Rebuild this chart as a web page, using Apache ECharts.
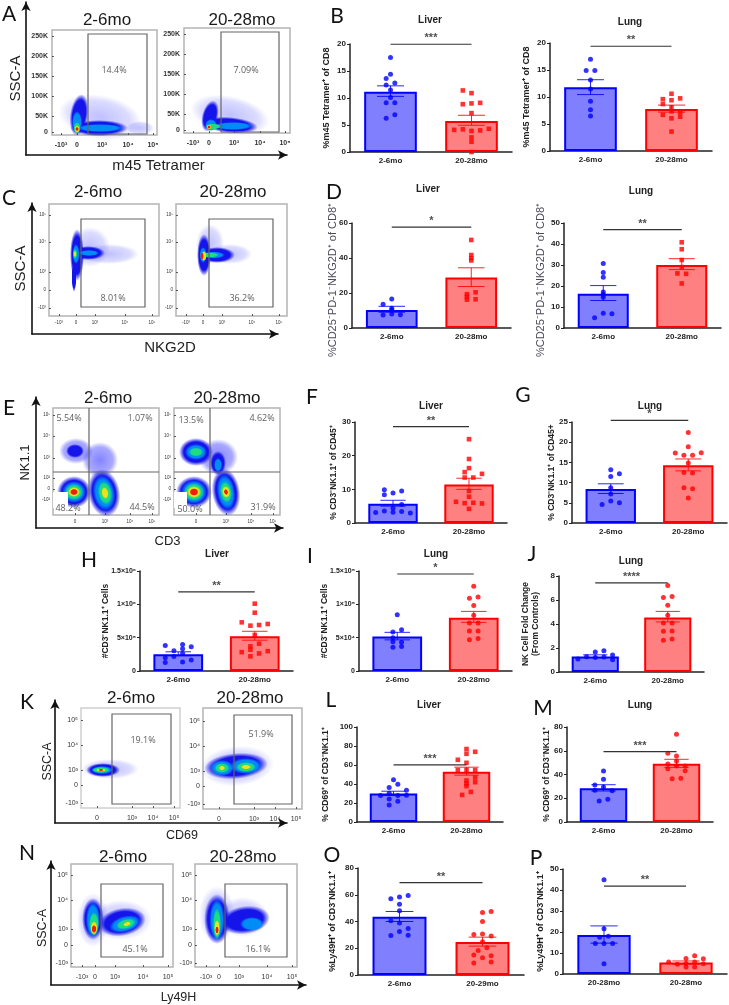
<!DOCTYPE html>
<html>
<head>
<meta charset="utf-8">
<title>Age-related changes in CD8 T cells and NK cells</title>
<style>html,body{margin:0;padding:0;background:#fff}#fig{width:729px;height:1005px}</style>
<script src="https://cdn.jsdelivr.net/npm/echarts@6/dist/echarts.min.js"></script>
</head>
<body>
<div id="fig"></div>
<script>
// ---------- group labels ----------
const ageGroups = ['2-6mo', '20-28mo'];
const ageGroupsO = ['2-6mo', '20-29mo'];
const ageGroupsP = ['20-28mo', '20-28mo'];

// ---------- bar panels: [jitter step, value] per animal, means, [low, high] of the SEM ----------
const bLiverBlue = [[0,17.5],[0,14.4],[-1,13.6],[-1,12.4],[1,12.8],[0,11.5],[0,10.1],[-1,9.1],[1,9.1],[-1,6.25],[1,6.9]];
const bLiverRed = [[-2,11.4],[0,10.9],[-2,8.85],[0,9],[2,9.1],[0,7.2],[-4,4.1],[-2,4.2],[0,3.9],[2,4],[4,4.3],[0,2.7],[0,1.9],[0,0]];
const bLiverMeans = [11.15, 5.75];
const bLiverSem = [[10.3,12.25],[4.95,6.8]];

const bLungBlue = [[0,17],[-1,14.9],[1,14.9],[0,13.15],[0,11.5],[0,9.2],[0,7.65],[0,6.5]];
const bLungRed = [[0,10.6],[-2,9.6],[2,9.75],[0,9.4],[-2,8.7],[0,8.1],[0,7.35],[2,7.15],[-2,6.7],[2,6.35],[0,6.05],[0,3.6]];
const bLungMeans = [11.8, 7.8];
const bLungSem = [[10.45,13.2],[7.2,8.5]];

const dLiverBlue = [[-2,13.6],[0,16.6],[0,11.3],[-2,7.5],[0,8],[2,7.6],[0,10.3]];
const dLiverRed = [[0,50.3],[0,41.7],[0,39.9],[0,38.6],[-1,19.3],[1,20.4],[-1,17.8],[-1,16.2],[1,16.4]];
const dLiverMeans = [10.3, 28.9];
const dLiverSem = [[9,12.4],[23.7,34.4]];

const dLungBlue = [[0,30.7],[0,26.4],[0,24.2],[0,17.2],[0,16],[0,14.7],[0,7],[2,6.8],[-2,4.9]];
const dLungRed = [[0,40.8],[0,37.5],[0,32.4],[0,29],[-1,26],[1,25.8],[0,21.2]];
const dLungMeans = [16.3, 30];
const dLungSem = [[13.1,20.2],[27.8,33]];

const fBlue = [[-2,9.9],[-2,8.4],[0,8.9],[2,9.5],[2,5.5],[0,4.4],[-2,3.6],[-4,3.1],[0,3.2],[2,3.4],[4,3]];
const fRed = [[0,24.9],[0,19],[0,16.3],[-1,15.1],[3,14.6],[-1,13.5],[1,13.5],[0,9.5],[0,7.8],[-3,6.3],[-1,5.9],[1,6],[3,5.8],[0,4.2]];
const fMeans = [5.7, 11.4];
const fSem = [[5,6.75],[10,13.3]];

const gBlue = [[0,13.2],[0,11.5],[2,12.2],[0,8.75],[0,7.2],[0,5.45],[2,5],[-2,4.6]];
const gRed = [[0,22.4],[0,18.9],[-3,17.3],[-1,16.75],[1,16.75],[3,17.4],[0,14.85],[-1,12.5],[1,12.4],[-1,8.7],[1,8.5],[0,6.2]];
const gMeans = [8.4, 14.3];
const gSem = [[7.3,9.7],[12.9,15.85]];

const hBlue = [[-3,3.83e5],[1,3.97e5],[3,3.63e5],[1,3.33e5],[-1,3.03e5],[1,2.63e5],[-3,1.99e5],[-1,2.19e5],[1,1.34e5],[3,1.64e5],[-3,1.29e5]];
const hRed = [[0,10.1e5],[0,8.74e5],[-3,7.3e5],[-1,6.8e5],[1,6.9e5],[3,7.05e5],[0,5.4e5],[1,4.1e5],[-1,3.7e5],[-1,3.2e5],[-3,2.83e5],[1,2.63e5],[3,2.98e5],[-1,2.2e5]];
const hMeans = [2.53e5, 5.2e5];
const hSem = [[2.29e5,2.88e5],[4.62e5,5.96e5]];
const hTickLabels = {0:'0', 500000:'5×10⁵', 1000000:'1×10⁶', 1500000:'1.5×10⁶'};

const iBlue = [[0,8.44e4],[-1,5.86e4],[1,6.2e4],[-1,4.97e4],[-1,4.37e4],[1,4.32e4],[-1,3.58e4],[1,3.68e4]];
const iRed = [[0,12.7e4],[-1,10.9e4],[1,11.1e4],[0,9.84e4],[0,8.35e4],[-1,7.2e4],[1,7.2e4],[-1,6e4],[1,6e4],[-1,4.67e4],[1,4.87e4]];
const iMeans = [5.17e4, 8e4];
const iSem = [[4.67e4,5.8e4],[7.3e4,8.94e4]];
const iTickLabels = {0:'0', 50000:'5×10⁴', 100000:'1×10⁵', 150000:'1.5×10⁵'};

const jBlue = [[0,1.66],[2,1.77],[-2,1.27],[0,1.21],[2,1.24],[4,1.41],[-4,1.08],[4,1.02]];
const jRed = [[0,7.2],[-1,6.2],[1,6.29],[0,5.57],[0,4.72],[-1,4.08],[1,4.08],[-1,3.39],[1,3.42],[-1,2.65],[1,2.76]];
const jMeans = [1.3, 4.55];
const jSem = [[1.19,1.43],[4.17,5.05]];

const lBlue = [[0,44.4],[1,39.8],[-1,36.3],[3,33.5],[-1,30.3],[-3,27.8],[1,27.8],[3,28.2],[-1,24.3],[1,21.8],[-1,18]];
const lRed = [[0,76.8],[0,71.8],[2,73.9],[-2,65.5],[0,62.3],[-2,54.6],[0,54.9],[2,54.6],[0,43.7],[2,46.8],[2,41.9],[0,40.5],[0,37.7],[1,31.7],[-1,28.5]];
const lMeans = [29.9, 52.8];
const lSem = [[27.8,32.4],[49.3,57.7]];

const mBlue = [[0,42.9],[0,35.9],[-2,31.2],[0,29.5],[-2,26.7],[2,26.4],[1,19.1],[-1,17.7]];
const mRed = [[0,73.8],[-2,57.8],[0,55.6],[0,51.4],[-2,48.8],[0,47.2],[2,47.2],[-2,44.9],[2,43.2],[-1,36.5],[1,36.8]];
const mMeans = [28.4, 49.1];
const mSem = [[26.1,31.4],[46,52.8]];

const oBlue = [[-2,57.1],[0,58.4],[2,59.4],[0,52.9],[0,48],[-2,40.5],[0,38.8],[2,34.8],[0,32.5],[-2,29.6],[2,29.8]];
const oRed = [[0,46.7],[2,47.5],[0,40],[-2,30.3],[0,30.6],[2,29.1],[0,24.8],[1,20.4],[-1,18.4],[-2,14.9],[2,14.4],[0,12.9],[2,9.7],[-2,8.9]];
const oMeans = [43.5, 24.6];
const oSem = [[40,47.5],[21.6,28.3]];

const pBlue = [[0,44.9],[0,21.6],[-1,17.5],[1,18],[-2,14.5],[0,14.5],[2,14.5],[0,4.9]];
const pRed = [[0,7.4],[2,8.7],[4,7.3],[-4,5.7],[-2,4.7],[0,5],[2,5.7],[4,4.9],[2,3.3],[0,3.3]];
const pMeans = [18.6, 5.5];
const pSem = [[14.7,22.9],[4.7,6.2]];

// ---------- cytometry plots: density contours as [x, y, rx, ry, tilt, level], in channel units ----------
// level: 0 faint, 1 sparse, 2 blue, 3 azure, 4 green, 5 yellow, 6 red
const aYoung = [[48,18,42,22,-10,0],[88,7,14,7,0,0],[27,20,9,21,-8,2],[47,7,29,8,0,2],[25,13,5,11,0,3],[48,7,24,4,0,3],[25,7,3.5,6,0,4],[25,6,2.5,3.5,0,5],[25,6,1.8,2,0,6]];
const aOld = [[46,18,40,19,-12,0],[26,17,8,16,-15,2],[46,8,28,8,-5,2],[27,8,6,6,0,3],[49,7,20,4,0,3],[29,6.5,8,3,0,4],[25,6,2.5,2.5,0,5],[25,6,1.8,1.8,0,6]];
const cYoung = [[41,69,20,20,0,0],[60,62,30,10,0,0],[28,61,7,26,0,2],[25,39,2.5,15,0,2],[39,63,17,7,0,2],[27,62,3.5,10,0,3],[40,63,10,3,0,3],[26,62,2.2,5,0,4],[26,62,1.4,3,0,5]];
const cOld = [[34,72,14,20,0,0],[54,62,22,10,0,0],[28,61,7,21,0,2],[41,61,18,8,0,2],[37,61,12,3.5,0,3],[27,61,3.5,8,0,3],[34,61,9,2.5,0,4],[28,60,2.6,5,0,5],[26,60,1.8,3.5,0,6]];
const eYoung = [[23,64,17,13,0,1],[47,55,18,18,0,1],[22,64,9,7,0,2],[21,23,17,16,0,2],[21,23,12,11,0,3],[21,23,9,8,0,4],[21,23,6,5,0,5],[21,23,4,3.2,0,6],[51,22,16,24,10,2],[51,22,11,18,10,3],[52,22,7,12,10,4],[52,22,3.5,6,10,5]];
const eOld = [[22,63,17,14,0,2],[22,63,11,8,0,3],[22,63,7,4.5,0,4],[44,58,20,18,0,1],[44,52,8,12,0,2],[44,50,4,7,0,3],[20,23,18,16,0,2],[20,23,13,12,0,3],[20,23,10,9,0,4],[20,23,7,6,0,5],[20,23,4.5,3.8,0,6],[52,23,14,24,8,2],[52,23,9,18,8,3],[52,23,6,11,8,4],[52,23,4,6,8,5],[52,23,2,3,8,6]];
const kYoung = [[29,39,29,10,0,0],[22,38,17,7,0,2],[21,38,11,4,0,3],[20,38,9,3,0,4],[20,38,5,1.6,0,5],[20,38,2.5,1,0,6]];
const kOld = [[34,43,37,20,5,0],[33,43,32,13,5,2],[19,41,12,8,0,3],[43,43,16,8,0,3],[19,41,7.5,5,0,4],[43,42,10,5,0,4],[19,41,3,2.2,0,5],[43,42,5,2.2,0,5]];
const nYoung = [[22,47,16,27,0,0],[50,47,31,20,0,0],[22,48,11,21,0,2],[51,45,24,14,10,2],[22,47,7,18,0,3],[54,43,16,8,15,3],[23,43,5,12,0,4],[55,43,10,5,15,4],[23,39,3.5,7,0,5],[56,43,4,2,15,5],[23,38,2.4,4,0,6]];
const nOld = [[22,52,18,29,0,0],[48,50,26,20,0,0],[22,48,13,25,0,2],[50,47,25,14,8,2],[22,47,7.5,21,0,3],[57,43,12,7,0,3],[22,43,4,16,0,4],[22,39,2.8,8,0,5],[22,37,1.8,3.6,0,6]];

// axis ticks shared by the plot rows, in the same channel units
const scatterLabels = ['0','50K','100K','150K','200K','250K'];
const scatterTicks = [3,19,39,59,79,99];
const aXTicks = [9,25,50,76,101];
const logXLabels = ['-10³','0','10³','10⁴','10⁵'];
const logYLabels = ['-10³','0','10³','10⁴','10⁵'];
const cXTicks = [10,27,46,76,103];
const cYTicks = [8,26,44,74,101];
const eXTicks = [22,52,77,99];
const eXLabels = ['0','10³','10⁴','10⁵'];
const eYTicks = [15,26,37,57,79,100];
const eYLabels = ['-10²','0','10²','10³','10⁴','10⁵'];
const kXTicks = [16,51,72,93];
const kYTicks = [5,23,38,63,88];
const nXTicks = [11,24,44,72,97];
const nYTicks = [4,22,38,67,92];

const SANS = '"Liberation Sans", Arial, sans-serif';
const BLUE = '#0000ff', RED = '#ff0000';
const option = {
  animation: false, backgroundColor: '#fff', textStyle: {fontFamily: SANS},
  title: [], grid: [], xAxis: [], yAxis: [], series: []
};

function addTitle(text, x, y, size, weight, family, color) {
  option.title.push({text, left: x, top: y, padding: 0, textAlign: 'center', textVerticalAlign: 'middle',
    textStyle: {fontSize: size, fontWeight: weight || 'normal', fontFamily: family || SANS, color: color || '#1a1a1a'}});
}

// ---------- one bar panel ----------
function addBars(p) {
  const gi = option.grid.length, xi = option.xAxis.length, yi = option.yAxis.length;
  const width = p.right - p.left, cat = width / 2;
  const step = 4.33 / cat;
  option.grid.push({left: p.left, top: p.top, width, height: p.zero - p.top});
  const axisLine = {show: true, onZero: false, lineStyle: {color: '#222', width: 1.5}};
  option.xAxis.push({gridIndex: gi, type: 'category', data: p.categories, axisLine,
    axisTick: {alignWithLabel: true, length: 3, lineStyle: {color: '#222', width: 1}},
    axisLabel: {fontSize: 8, fontWeight: 'bold', color: '#222', margin: 5, interval: 0}, splitLine: {show: false}});
  option.xAxis.push({gridIndex: gi, type: 'value', min: -0.5, max: 1.5, show: false});
  const tick = p.tickLabels ? (v => p.tickLabels[v]) : undefined;
  option.yAxis.push({gridIndex: gi, type: 'value', min: 0, max: p.max, interval: p.interval, axisLine,
    axisTick: {show: true, length: 3, lineStyle: {color: '#222', width: 1}},
    axisLabel: {fontSize: p.tickLabels ? 7 : 8, fontWeight: 'bold', color: '#222', margin: 4, formatter: tick},
    splitLine: {show: false},
    name: p.yName, nameLocation: 'middle', nameRotate: 90, nameGap: p.nameGap, nameMoveOverlap: false,
    nameTextStyle: Object.assign({fontSize: 9, fontWeight: 'bold', color: '#222', lineHeight: 10, fontFamily: SANS}, p.nameStyle || {})});
  const axes = {xAxisIndex: xi, yAxisIndex: yi};
  const valueAxes = {xAxisIndex: xi + 1, yAxisIndex: yi};
  option.series.push({type: 'bar', ...axes, barWidth: '65%', silent: true,
    data: p.means.map((v, i) => ({value: v, itemStyle: {
      color: i ? '#ff8080' : '#8080ff', borderColor: i ? RED : BLUE, borderWidth: 2}}))});
  const dots = (pts, g, symbol, size, color) => option.series.push({type: 'scatter', ...valueAxes, symbol, symbolSize: size, silent: true, z: 4,
    itemStyle: {color}, clip: false, data: pts.map(d => [g + d[0] * step, d[1]])});
  dots(p.blue, 0, 'circle', 5, BLUE);
  dots(p.red, 1, p.redSymbol, p.redSymbol === 'rect' ? 4.6 : 5, RED);
  // SEM whiskers
  option.series.push({type: 'custom', ...valueAxes, silent: true, z: 5, clip: false,
    data: p.sem.map((s, i) => [i, s[0], s[1]]),
    renderItem(params, api) {
      const g = api.value(0), a = api.coord([g, api.value(1)]), b = api.coord([g, api.value(2)]);
      const c = g ? RED : BLUE, w = cat / 6;
      const style = {stroke: c, lineWidth: 1, opacity: 0.85, fill: null};
      const seg = (x1, y1, x2, y2) => ({type: 'line', shape: {x1, y1, x2, y2}, style});
      return {type: 'group', children: [
        seg(a[0], a[1], b[0], b[1]), seg(a[0] - w, a[1], a[0] + w, a[1]), seg(b[0] - w, b[1], b[0] + w, b[1])]};
    }});
  // significance bracket and its stars
  option.series.push({type: 'line', ...valueAxes, silent: true, clip: false, showSymbol: false, z: 6,
    lineStyle: {color: '#333', width: 1.2}, data: [[0, p.sig], [1, p.sig]]});
  option.series.push({type: 'scatter', ...valueAxes, silent: true, clip: false, symbolSize: 1, z: 6,
    itemStyle: {color: 'rgba(0,0,0,0)'}, data: [[0.5, p.sig]],
    label: {show: true, position: 'top', distance: 0, formatter: p.stars, fontSize: 11, fontWeight: 'bold', color: '#222'}});
  if (p.title) addTitle(p.title, p.titleX, p.titleY, 10, 'bold', SANS, '#222');
}

// ---------- one cytometry plot ----------
function softFill(level) {
  const rgb = ['60,60,255','50,50,255','20,20,235','0,140,245','30,220,130','235,225,30','240,30,15'][level];
  const core = [0.32, 0.6, 1, 1, 1, 1, 1][level];
  const mid = [0.18, 0.42, 1, 1, 1, 1, 1][level];
  return {type: 'radial', x: 0.5, y: 0.5, r: 0.5, colorStops: [
    {offset: 0, color: `rgba(${rgb},${core})`},
    {offset: 0.72, color: `rgba(${rgb},${mid})`},
    {offset: 1, color: `rgba(${rgb},0)`}]};
}

function addFlow(p) {
  const gi = option.grid.length, xi = option.xAxis.length, yi = option.yAxis.length;
  const w = p.frame[2] - p.frame[0], h = p.frame[3] - p.frame[1];
  option.grid.push({left: p.frame[0], top: p.frame[1], width: w, height: h, show: true,
    backgroundColor: '#fff', borderColor: p.frameColor || '#b4b4b4', borderWidth: 1.5});
  const axis = (ticks, labels, extent, margin) => ({gridIndex: gi, type: 'value', min: 0, max: extent, z: 1,
    axisLine: {show: false, onZero: false}, splitLine: {show: false},
    axisTick: {show: true, customValues: ticks, length: 2, inside: true, lineStyle: {color: '#333', width: 0.8}},
    axisLabel: {customValues: ticks, fontSize: p.tickFont, color: '#333', margin, fontWeight: p.tickWeight || 'normal',
      formatter: v => labels[ticks.indexOf(v)], showMinLabel: true, showMaxLabel: true}});
  option.xAxis.push(axis(p.xTicks, p.xLabels, w, p.xMargin));
  option.yAxis.push(axis(p.yTicks, p.yLabels, h, p.yMargin));
  const axes = {xAxisIndex: xi, yAxisIndex: yi};
  // a unit circle stretched per contour keeps the soft radial fill elliptical
  option.series.push({type: 'custom', ...axes, silent: true, clip: false, z: 2,
    data: p.density.slice().sort((a, b) => a[5] - b[5]),
    renderItem(params, api) {
      const c = api.coord([api.value(0), api.value(1)]);
      const rx = api.size([api.value(2), 0])[0], ry = api.size([0, api.value(3)])[1];
      return {type: 'circle', x: c[0], y: c[1], rotation: api.value(4) * Math.PI / 180,
        scaleX: rx / 10, scaleY: ry / 10, shape: {cx: 0, cy: 0, r: 10},
        style: {fill: softFill(api.value(5))}};
    }});
  // gates and quadrant dividers: [x0, y0, x1, y1]
  const rects = (items, style, z) => option.series.push({type: 'custom', ...axes, silent: true, clip: false, z,
    data: items, renderItem(params, api) {
      const a = api.coord([api.value(0), api.value(1)]), b = api.coord([api.value(2), api.value(3)]);
      return {type: 'rect', shape: {x: a[0], y: b[1], width: b[0] - a[0], height: a[1] - b[1]}, style};
    }});
  if (p.masks) rects(p.masks, {fill: '#fff'}, 3);
  if (p.gates) rects(p.gates, {fill: 'none', stroke: '#666', lineWidth: 1.2}, 4);
  option.series.push({type: 'scatter', ...axes, silent: true, clip: false, symbolSize: 1, z: 6,
    itemStyle: {color: 'rgba(0,0,0,0)'}, data: p.notes.map(n => ({value: [n[0], n[1]],
      label: {show: true, position: 'inside', formatter: n[2], fontSize: 9, color: '#333', fontFamily: '"Open Sans", sans-serif'}}))});
  addTitle(p.title, p.titleX, p.titleY, 17);
}

// ---------- arrowed outer axes shared by a pair of plots ----------
function addArrows(a) {
  const gi = option.grid.length;
  option.grid.push({left: a.x, top: a.top, width: a.right - a.x, height: a.y - a.top});
  const line = {show: true, onZero: false, symbol: ['none', 'arrow'], symbolSize: [7, 9], lineStyle: {color: '#111', width: 1.6}};
  const style = {fontSize: a.size, color: '#222', fontFamily: SANS};
  option.xAxis.push({gridIndex: gi, type: 'value', min: 0, max: 1, axisLine: line, axisTick: {show: false}, axisLabel: {show: false}, splitLine: {show: false},
    name: a.xName, nameLocation: 'middle', nameGap: a.xGap, nameMoveOverlap: false,
    nameTextStyle: Object.assign({}, style, {padding: a.xPad})});
  option.yAxis.push({gridIndex: gi, type: 'value', min: 0, max: 1, axisLine: line, axisTick: {show: false}, axisLabel: {show: false}, splitLine: {show: false},
    name: a.yName, nameLocation: 'middle', nameRotate: 90, nameGap: a.yGap, nameMoveOverlap: false,
    nameTextStyle: Object.assign({}, style, {padding: a.yPad})});
}

// ---------- left column: cytometry ----------
addArrows({x: 26, y: 155, top: 2, right: 287, xName: 'm45 Tetramer', yName: 'SSC-A', size: 15, xGap: 3, yGap: 3, xPad: [0,0,0,4], yPad: 0});
addFlow({frame: [52,30,157,135], xTicks: aXTicks, xLabels: logXLabels, yTicks: scatterTicks, yLabels: scatterLabels, tickFont: 7, tickWeight: 'bold', xMargin: 7, yMargin: 4,
  density: aYoung, gates: [[36,1,95,101]], notes: [[62,65,'14.4%']], title: ageGroups[0], titleX: 107, titleY: 20});
addFlow({frame: [184,28,290,133], xTicks: aXTicks, xLabels: logXLabels, yTicks: scatterTicks, yLabels: scatterLabels, tickFont: 7, tickWeight: 'bold', xMargin: 7, yMargin: 4,
  density: aOld, gates: [[37,1,95,101]], notes: [[62,63,'7.09%']], title: ageGroups[1], titleX: 242, titleY: 20});

addArrows({x: 32, y: 334, top: 203, right: 278, xName: 'NKG2D', yName: 'SSC-A', size: 15, xGap: 6, yGap: 4, xPad: [0,0,0,30], yPad: 0});
addFlow({frame: [49,204,159,316], xTicks: cXTicks, xLabels: logXLabels, yTicks: cYTicks, yLabels: logYLabels, tickFont: 4.5, xMargin: 4, yMargin: 3,
  density: cYoung, gates: [[32,9,96,97]], notes: [[64,18,'8.01%']], title: ageGroups[0], titleX: 98, titleY: 192});
addFlow({frame: [176,204,287,316], xTicks: cXTicks, xLabels: logXLabels, yTicks: cYTicks, yLabels: logYLabels, tickFont: 4.5, xMargin: 4, yMargin: 3,
  density: cOld, gates: [[33,9,97,97]], notes: [[66,18,'36.2%']], title: ageGroups[1], titleX: 233, titleY: 192});

addArrows({x: 36, y: 528, top: 397, right: 283, xName: 'CD3', yName: 'NK1.1', size: 13, xGap: 7, yGap: 4, xPad: [0,0,0,16], yPad: 0});
addFlow({frame: [53,408,159,515], xTicks: eXTicks, xLabels: eXLabels, yTicks: eYTicks, yLabels: eYLabels, tickFont: 4.5, xMargin: 4, yMargin: 3,
  density: eYoung, masks: [[0,7,15,23]], gates: [[36,0,36,107],[0,43,106,43]],
  notes: [[16,97,'5.54%'],[87,97,'1.07%'],[15,7,'48.2%'],[89,8,'44.5%']], title: ageGroups[0], titleX: 108, titleY: 398});
addFlow({frame: [174,408,280,515], xTicks: eXTicks, xLabels: eXLabels, yTicks: eYTicks, yLabels: eYLabels, tickFont: 4.5, xMargin: 4, yMargin: 3,
  density: eOld, masks: [[0,7,13,23]], gates: [[36,0,36,107],[0,43,106,43]],
  notes: [[17,95,'13.5%'],[88,97,'4.62%'],[16,6,'50.0%'],[89,8,'31.9%']], title: ageGroups[1], titleX: 227, titleY: 398});

addArrows({x: 55, y: 823, top: 700, right: 287, xName: 'CD69', yName: 'SSC-A', size: 12.5, xGap: 6, yGap: 1, xPad: [0,0,0,22], yPad: 0});
addFlow({frame: [81,708,180,808], frameColor: '#cfcfcf', xTicks: kXTicks, xLabels: eXLabels, yTicks: kYTicks, yLabels: logYLabels, tickFont: 7, xMargin: 7, yMargin: 3,
  density: kYoung, gates: [[31,4,90,94]], notes: [[62,68,'19.1%']], title: ageGroups[0], titleX: 131, titleY: 698});
addFlow({frame: [203,708,302,809], xTicks: kXTicks, xLabels: eXLabels, yTicks: kYTicks, yLabels: logYLabels, tickFont: 7, xMargin: 7, yMargin: 3,
  density: kOld, gates: [[31,5,89,94]], notes: [[58,75,'51.9%']], title: ageGroups[1], titleX: 250, titleY: 698});

addArrows({x: 51, y: 985, top: 861, right: 306, xName: 'Ly49H', yName: 'SSC-A', size: 12.5, xGap: 6, yGap: 2, xPad: 0, yPad: [0,10,0,0]});
addFlow({frame: [71,864,173,967], xTicks: nXTicks, xLabels: logXLabels, yTicks: nYTicks, yLabels: logYLabels, tickFont: 7, xMargin: 7, yMargin: 3,
  density: nYoung, gates: [[30,10,92,83]], notes: [[64,18,'45.1%']], title: ageGroups[0], titleX: 123, titleY: 857});
addFlow({frame: [195,864,297,967], xTicks: nXTicks, xLabels: logXLabels, yTicks: nYTicks, yLabels: logYLabels, tickFont: 7, xMargin: 7, yMargin: 3,
  density: nOld, gates: [[30,10,92,83]], notes: [[63,18,'16.1%']], title: ageGroups[1], titleX: 243, titleY: 857});

// ---------- bar panels ----------
const dNameStyle = {fontSize: 11, fontWeight: 'normal', color: '#4a4a5c', padding: [0,9,0,0]};
addBars({left: 350, right: 512, top: 44, zero: 152, max: 20, interval: 5, categories: ageGroups, blue: bLiverBlue, red: bLiverRed, redSymbol: 'rect', means: bLiverMeans, sem: bLiverSem, sig: 19.95, stars: '***', title: 'Liver', titleX: 430, titleY: 20, yName: '%m45 Tetramer⁺ of CD8', nameGap: 18});
addBars({left: 550, right: 712, top: 43, zero: 151, max: 20, interval: 5, categories: ageGroups, blue: bLungBlue, red: bLungRed, redSymbol: 'rect', means: bLungMeans, sem: bLungSem, sig: 19.4, stars: '**', title: 'Lung', titleX: 630, titleY: 22, yName: '%m45 Tetramer⁺ of CD8', nameGap: 18});
addBars({left: 352, right: 511, top: 223, zero: 328, max: 60, interval: 20, categories: ageGroups, blue: dLiverBlue, red: dLiverRed, redSymbol: 'rect', means: dLiverMeans, sem: dLiverSem, sig: 57.7, stars: '*', title: 'Liver', titleX: 428, titleY: 189, yName: '%CD25⁻PD-1⁻NKG2D⁺ of CD8⁺', nameGap: 14, nameStyle: dNameStyle});
addBars({left: 564, right: 721, top: 223, zero: 328, max: 50, interval: 10, categories: ageGroups, blue: dLungBlue, red: dLungRed, redSymbol: 'rect', means: dLungMeans, sem: dLungSem, sig: 46.8, stars: '**', title: 'Lung', titleX: 641, titleY: 191, yName: '%CD25⁻PD-1⁻NKG2D⁺ of CD8⁺', nameGap: 18, nameStyle: dNameStyle});
addBars({left: 355, right: 507, top: 422, zero: 523, max: 30, interval: 10, categories: ageGroups, blue: fBlue, red: fRed, redSymbol: 'rect', means: fMeans, sem: fSem, sig: 28.6, stars: '**', title: 'Liver', titleX: 431, titleY: 406, yName: '% CD3⁻NK1.1⁺ of CD45⁺', nameGap: 16, nameStyle: {fontSize: 8.5}});
addBars({left: 572, right: 727, top: 422, zero: 523, max: 25, interval: 5, categories: ageGroups, blue: gBlue, red: gRed, redSymbol: 'circle', means: gMeans, sem: gSem, sig: 25.4, stars: '*', title: 'Lung', titleX: 650, titleY: 406, yName: '% CD3⁻NK1.1⁺ of CD45+', nameGap: 15, nameStyle: {fontSize: 8.5}});
addBars({left: 140, right: 293, top: 571, zero: 671, max: 1500000, interval: 500000, tickLabels: hTickLabels, categories: ageGroups, blue: hBlue, red: hRed, redSymbol: 'rect', means: hMeans, sem: hSem, sig: 1187000, stars: '**', title: 'Liver', titleX: 217, titleY: 554, yName: '#CD3⁻NK1.1⁺ Cells', nameGap: 29, nameStyle: {fontSize: 8.5}});
addBars({left: 359, right: 512, top: 571, zero: 671, max: 150000, interval: 50000, tickLabels: iTickLabels, categories: ageGroups, blue: iBlue, red: iRed, redSymbol: 'circle', means: iMeans, sem: iSem, sig: 145500, stars: '*', title: 'Lung', titleX: 436, titleY: 554, yName: '#CD3⁻NK1.1⁺ Cells', nameGap: 29, nameStyle: {fontSize: 8.5}});
addBars({left: 559, right: 704, top: 576, zero: 672, max: 8, interval: 2, categories: ageGroups, blue: jBlue, red: jRed, redSymbol: 'circle', means: jMeans, sem: jSem, sig: 7.42, stars: '****', title: 'Lung', titleX: 631, titleY: 561, yName: 'NK Cell Fold Change\n(From Controls)', nameGap: 18, nameStyle: {fontSize: 8.5}});
addBars({left: 357, right: 503, top: 727, zero: 822, max: 100, interval: 20, categories: ageGroups, blue: lBlue, red: lRed, redSymbol: 'rect', means: lMeans, sem: lSem, sig: 60.2, stars: '***', title: 'Liver', titleX: 429, titleY: 705, yName: '% CD69⁺ of CD3⁻NK1.1⁺', nameGap: 26, nameStyle: {fontSize: 8.5}});
addBars({left: 567, right: 713, top: 727, zero: 822, max: 80, interval: 20, categories: ageGroups, blue: mBlue, red: mRed, redSymbol: 'circle', means: mMeans, sem: mSem, sig: 59.2, stars: '***', title: 'Lung', titleX: 640, titleY: 705, yName: '% CD69⁺ of CD3⁻NK1.1⁺', nameGap: 15, nameStyle: {fontSize: 8.5}});
addBars({left: 358, right: 524, top: 868, zero: 975, max: 80, interval: 20, categories: ageGroupsO, blue: oBlue, red: oRed, redSymbol: 'circle', means: oMeans, sem: oSem, sig: 69, stars: '**', title: '', yName: '%Ly49H⁺ of CD3⁻NK1.1⁺', nameGap: 20});
addBars({left: 563, right: 727, top: 869, zero: 974, max: 50, interval: 10, categories: ageGroupsP, blue: pBlue, red: pRed, redSymbol: 'circle', means: pMeans, sem: pSem, sig: 41.8, stars: '**', title: '', yName: '%Ly49H⁺ of CD3⁻NK1.1⁺', nameGap: 17});

// ---------- panel letters ----------
const panelLetters = ['A','B','C','D','E','F','G','H','I','J','K','L','M','N','O','P'];
const letterSpots = [[9,14],[337,16],[9,198],[334,192],[9,408],[312,397],[523,395],[89,560],[310,556],[532,554],[27,702],[331,700],[543,708],[27,853],[332,855],[536,858]];
panelLetters.forEach((t, i) => addTitle(t, letterSpots[i][0], letterSpots[i][1], 21, 'normal', 'Lato, sans-serif', '#111'));

echarts.init(document.getElementById('fig'), null, {renderer: 'canvas'}).setOption(option);
</script>
</body>
</html>
